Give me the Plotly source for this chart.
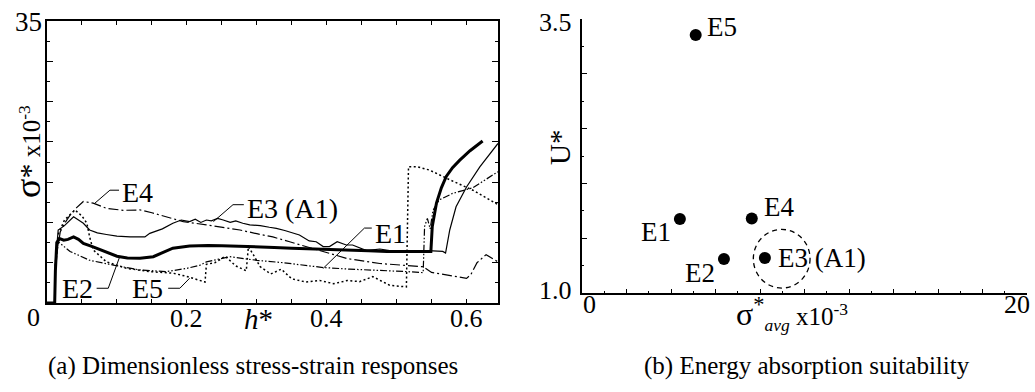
import plotly.graph_objects as go

# ---------------- (a) dimensionless stress-strain responses ----------------
# h* (dimensionless displacement) and sigma* (x1e-3) for each specimen
h_e1 = [0, 0.011, 0.012, 0.016, 0.033, 0.061, 0.095, 0.133, 0.171, 0.200, 0.219, 0.228, 0.261,
        0.300, 0.338, 0.371, 0.395, 0.433, 0.466, 0.514, 0.538, 0.540, 0.544, 0.548, 0.552,
        0.561, 0.580, 0.609, 0.645]
s_e1 = [0, 0, 4.0, 7.6, 6.4, 5.3, 4.7, 4.1, 3.9, 4.3, 4.7, 5.1, 5.75,
        5.3, 5.0, 4.6, 4.4, 4.2, 4.1, 3.9, 3.77, 9.5, 10.5, 9.2, 11.5,
        12.8, 13.6, 14.3, 16.3]

h_e2 = [0, 0.011, 0.012, 0.014, 0.018, 0.024, 0.030, 0.038, 0.045, 0.052, 0.065, 0.076, 0.090,
        0.100, 0.115, 0.133, 0.152, 0.165, 0.180, 0.204, 0.230, 0.250, 0.275, 0.300, 0.325,
        0.350, 0.375, 0.394, 0.415, 0.433, 0.460, 0.486, 0.510, 0.530, 0.549, 0.551, 0.554,
        0.557, 0.564, 0.571, 0.580, 0.590, 0.605, 0.623]
s_e2 = [0, 0, 4.0, 7.5, 8.0, 7.8, 7.9, 8.2, 7.9, 7.4, 7.0, 6.6, 6.1,
        5.8, 5.6, 5.55, 5.75, 6.2, 6.8, 7.07, 7.15, 7.1, 7.05, 7.0, 6.9,
        6.8, 6.75, 6.7, 6.6, 6.6, 6.5, 6.4, 6.4, 6.4, 6.4, 9.5, 11.0,
        12.4, 14.3, 15.7, 16.8, 17.7, 18.9, 20.1]

h_e3 = [0, 0.011, 0.012, 0.016, 0.025, 0.032, 0.038, 0.045, 0.052, 0.061, 0.072, 0.085, 0.100,
        0.119, 0.140, 0.147, 0.165, 0.180, 0.192, 0.204, 0.212, 0.220, 0.228, 0.235, 0.244,
        0.252, 0.262, 0.270, 0.280, 0.290, 0.305, 0.318, 0.328, 0.340, 0.352, 0.361, 0.375,
        0.385, 0.395, 0.404, 0.415, 0.428, 0.437, 0.447, 0.457, 0.466, 0.476, 0.490, 0.520,
        0.545, 0.566, 0.570, 0.576, 0.585, 0.600, 0.619, 0.645]
s_e3 = [0, 0, 5.0, 9.06, 9.6, 10.2, 10.7, 10.3, 9.9, 9.06, 8.7, 8.5, 8.3,
        8.2, 8.2, 8.65, 9.2, 9.9, 10.3, 10.1, 10.4, 10.0, 10.3, 10.2, 10.5,
        10.3, 10.0, 10.2, 9.9, 9.7, 9.6, 9.4, 9.27, 9.0, 8.7, 8.44, 7.7,
        7.6, 7.0, 7.0, 7.6, 7.2, 7.2, 6.8, 6.5, 6.6, 6.7, 6.5, 6.4,
        6.5, 6.4, 6.2, 9.06, 11.95, 14.4, 16.9, 19.8]

h_e4 = [0, 0.011, 0.012, 0.019, 0.026, 0.033, 0.042, 0.052, 0.066, 0.085, 0.109, 0.133, 0.150,
        0.171, 0.195, 0.228, 0.252, 0.276, 0.300, 0.323, 0.347, 0.371, 0.400, 0.430, 0.476,
        0.510, 0.538, 0.550, 0.575, 0.600, 0.606, 0.615, 0.628, 0.645]
s_e4 = [0, 0, 5.0, 8.85, 10.0, 10.9, 11.8, 12.6, 12.4, 11.75, 11.5, 11.55, 11.2,
        10.7, 10.1, 9.7, 9.4, 9.06, 8.6, 8.2, 7.6, 7.0, 6.2, 5.5, 4.9,
        4.7, 4.5, 3.8, 3.4, 3.06, 3.5, 5.0, 6.0, 5.1]

h_e5 = [0, 0.011, 0.012, 0.016, 0.025, 0.040, 0.050, 0.057, 0.061, 0.066, 0.085, 0.114, 0.147,
        0.180, 0.200, 0.215, 0.226, 0.228, 0.240, 0.255, 0.270, 0.285, 0.288, 0.295, 0.305,
        0.320, 0.335, 0.350, 0.370, 0.390, 0.410, 0.430, 0.447, 0.466, 0.490, 0.514, 0.517,
        0.530, 0.547, 0.576, 0.609, 0.645]
s_e5 = [0, 0, 5.0, 8.5, 10.3, 11.55, 10.8, 9.9, 8.2, 6.6, 5.1, 4.3, 3.9,
        3.7, 3.3, 2.9, 2.6, 4.8, 5.0, 5.8, 4.6, 4.0, 7.0, 6.0, 4.5,
        3.6, 4.2, 3.0, 2.6, 2.8, 2.4, 2.8, 2.65, 3.27, 2.2, 2.0, 16.9,
        16.9, 16.5, 15.3, 14.0, 12.2]

a_xlabel_vals = [0.2, 0.4, 0.6]
a_xlabel_text = ["0.2", "0.4", "0.6"]
a_ytick_vals = [0, 5, 10, 15, 20, 25, 30, 35]
a_ylabel_vals = [35]
a_ylabel_text = ["35"]

# ---------------- (b) energy absorption suitability ----------------
b_names = ["E1", "E2", "E3", "E4", "E5"]
b_sigma_avg = [4.40, 6.38, 8.22, 7.63, 5.11]   # x1e-3
b_u = [1.675, 1.31, 1.32, 1.68, 3.355]
b_text = ["E1", "E2", "E3 (A1)", "E4", "E5"]

b_xtick_vals = [0, 2, 4, 6, 8, 10, 12, 14, 16, 18, 20]
b_xlabel_vals = [0, 20]
b_xlabel_text = ["0", "20"]
b_ytick_vals = [1.0, 1.5, 2.0, 2.5, 3.0, 3.5]
b_ylabel_vals = [1.0, 3.5]
b_ylabel_text = ["1.0", "3.5"]

W, H = 1035, 392
FONT = "Liberation Serif"
BLACK = "black"


def fx(p):
    return p / W


def fy(p):
    return 1 - p / H


def tfont(size):
    return dict(family=FONT, size=size, color=BLACK)


fig = go.Figure()

curve_styles = [
    ("E1", h_e1, s_e1, dict(color=BLACK, width=1.2, dash="7px,2px,1.5px,2px,1.5px,2px")),
    ("E2", h_e2, s_e2, dict(color=BLACK, width=3.0)),
    ("E3", h_e3, s_e3, dict(color=BLACK, width=1.2)),
    ("E4", h_e4, s_e4, dict(color=BLACK, width=1.2, dash="10px,3px,2px,3px")),
    ("E5", h_e5, s_e5, dict(color=BLACK, width=1.5, dash="2px,2.5px")),
]
for name, hx, sy, ln in curve_styles:
    fig.add_trace(go.Scatter(x=hx, y=sy, mode="lines", name=name, line=ln,
                             xaxis="x", yaxis="y", showlegend=False, hoverinfo="skip"))

fig.add_trace(go.Scatter(x=b_sigma_avg, y=b_u, mode="markers", name="specimens",
                         marker=dict(color=BLACK, size=12),
                         xaxis="x2", yaxis="y2", showlegend=False))

annotations = []
shapes = []

# curve labels in panel (a) with elbow leader lines
a_labels = [
    # text, text x, text y, anchor, leader path points
    ("E4", 0.1043, 13.7, "left", [(0.1030, 14.0), (0.0900, 14.0), (0.0686, 12.4)]),
    ("E3 (A1)", 0.2829, 11.75, "left", [(0.2815, 12.2), (0.2660, 12.2), (0.2380, 10.1)]),
    ("E1", 0.4657, 8.65, "left", [(0.4645, 9.3), (0.4540, 9.3), (0.3950, 4.3)]),
    ("E2", 0.0686, 1.86, "right", [(0.0710, 1.83), (0.0876, 1.83), (0.1040, 5.75)]),
    ("E5", 0.1686, 1.86, "right", [(0.1733, 1.83), (0.1900, 1.83), (0.2040, 3.07)]),
]
for txt, tx, ty, anc, pts in a_labels:
    annotations.append(dict(x=tx, y=ty, xref="x", yref="y", text=txt, showarrow=False,
                            xanchor=anc, yanchor="middle", font=tfont(28)))
    path = "M " + " L ".join(f"{px},{py}" for px, py in pts)
    shapes.append(dict(type="path", path=path, xref="x", yref="y",
                       line=dict(color=BLACK, width=1)))

# tick labels of panel (a)
for xv, txt in zip(a_xlabel_vals, a_xlabel_text):
    annotations.append(dict(x=xv, y=0, xref="x", yref="y", text=txt, showarrow=False,
                            xanchor="center", yanchor="middle", yshift=-15, font=tfont(26)))
for yv, txt in zip(a_ylabel_vals, a_ylabel_text):
    annotations.append(dict(x=0, y=yv, xref="x", yref="y", text=txt, showarrow=False,
                            xanchor="right", yanchor="middle", xshift=-3, yshift=-1,
                            font=tfont(27)))

# point labels in panel (b), offsets in pixels from each marker
b_offsets = {"E1": ("right", -7, -13), "E2": ("right", -7, -14),
             "E3 (A1)": ("left", 11, 0), "E4": ("left", 10, 11), "E5": ("left", 9, 8)}
for xv, yv, txt in zip(b_sigma_avg, b_u, b_text):
    anc, dx, dy = b_offsets[txt]
    annotations.append(dict(x=xv, y=yv, xref="x2", yref="y2", text=txt, showarrow=False,
                            xanchor=anc, yanchor="middle", xshift=dx, yshift=dy,
                            font=tfont(27)))

# tick labels of panel (b), nudged inward like the printed figure
for xv, txt, dx in zip(b_xlabel_vals, b_xlabel_text, [7, -10]):
    annotations.append(dict(x=xv, y=1.0, xref="x2", yref="y2", text=txt, showarrow=False,
                            xanchor="center", yanchor="middle", xshift=dx, yshift=-11,
                            font=tfont(26)))
for yv, txt, dy in zip(b_ylabel_vals, b_ylabel_text, [3, -4]):
    annotations.append(dict(x=0, y=yv, xref="x2", yref="y2", text=txt, showarrow=False,
                            xanchor="right", yanchor="middle", xshift=-8, yshift=dy,
                            font=tfont(26)))

# dashed ring around E3 (A1)
shapes.append(dict(type="circle", xref="x2", yref="y2", x0=7.70, x1=10.25, y0=1.045, y1=1.58,
                   line=dict(color=BLACK, width=1.3, dash="5px,4px")))


def paper_text(px, py, text, size, angle=0, xanchor="center"):
    return dict(x=fx(px), y=fy(py), xref="paper", yref="paper", text=text, showarrow=False,
                textangle=angle, xanchor=xanchor, yanchor="middle", font=tfont(size))


# axis titles and captions
annotations += [
    paper_text(28, 152, "<span style='font-size:36px'>σ</span>"
                        "<span style='font-size:30px'>*</span> x10<sup>-3</sup>", 25, angle=-90),
    paper_text(33, 317, "0", 26),
    paper_text(258, 319, "<i>h</i>*", 29),
    paper_text(560, 148, "U*", 29, angle=-90),
    paper_text(792, 313, "<span style='font-size:32px'>σ<sup>*</sup></span>"
                         "<sub><i>avg</i></sub> x10<sup>-3</sup>", 25),
    paper_text(253, 366, "(a) Dimensionless stress-strain responses", 25),
    paper_text(807, 366, "(b) Energy absorption suitability", 25),
]

fig.update_layout(
    width=W, height=H,
    margin=dict(l=0, r=0, t=0, b=0),
    paper_bgcolor="white", plot_bgcolor="white",
    showlegend=False,
    annotations=annotations,
    shapes=shapes,
    xaxis=dict(domain=[fx(47), fx(498)], range=[0, 0.645], showgrid=False, zeroline=False,
               showline=True, linecolor=BLACK, linewidth=2, mirror="ticks",
               ticks="inside", ticklen=4, tickwidth=1, tickcolor=BLACK,
               tickvals=a_xlabel_vals, showticklabels=False,
               minor=dict(dtick=0.05, ticks="inside", ticklen=4, tickcolor=BLACK),
               anchor="y"),
    yaxis=dict(domain=[fy(303), fy(21)], range=[0, 35], showgrid=False, zeroline=False,
               showline=True, linecolor=BLACK, linewidth=2, mirror="ticks",
               ticks="inside", ticklen=6, tickwidth=1, tickcolor=BLACK,
               tickvals=a_ytick_vals, showticklabels=False,
               minor=dict(dtick=2.5, ticks="inside", ticklen=3, tickcolor=BLACK),
               anchor="x"),
    xaxis2=dict(domain=[fx(582), fx(1027)], range=[0, 20], showgrid=False, zeroline=False,
                showline=True, linecolor=BLACK, linewidth=2,
                ticks="inside", ticklen=4, tickwidth=1, tickcolor=BLACK,
                tickvals=b_xtick_vals, showticklabels=False,
                minor=dict(dtick=1, ticks="inside", ticklen=2, tickcolor=BLACK),
                anchor="y2"),
    yaxis2=dict(domain=[fy(293), fy(19)], range=[1.0, 3.5], showgrid=False, zeroline=False,
                showline=True, linecolor=BLACK, linewidth=2,
                ticks="inside", ticklen=5, tickwidth=1, tickcolor=BLACK,
                tickvals=b_ytick_vals, showticklabels=False,
                minor=dict(dtick=0.25, ticks="inside", ticklen=2, tickcolor=BLACK),
                anchor="x2"),
)

fig.write_html("out.html")
